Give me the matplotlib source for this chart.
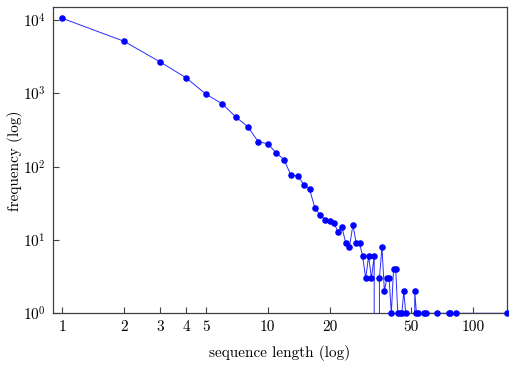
import numpy as np
import matplotlib
matplotlib.use("Agg")
import matplotlib.pyplot as plt
from matplotlib.ticker import FixedLocator, NullLocator

plt.rcParams['font.family'] = ['cmr10', 'DejaVu Serif']
plt.rcParams['mathtext.fontset'] = 'cm'
plt.rcParams['axes.unicode_minus'] = False

lengths = [1, 2, 3, 4, 5, 6, 7, 8, 9, 10, 11, 12, 13, 14, 15, 16, 17, 18, 19, 20,
           21, 22, 23, 24, 25, 26, 27, 28, 29, 30, 31, 32, 33, 34, 35, 36, 37, 38,
           39, 40, 41, 42, 43, 44, 45, 46, 47, 48, 49, 50, 51, 52, 53, 54, 58, 59,
           67, 76, 77, 83, 147]
counts = [10600, 5140, 2680, 1640, 980, 724, 476, 352, 219, 206, 155, 125, 76, 75,
          57, 49, 27, 22, 19, 18, 17, 13, 15, 9, 8, 16, 9, 9, 6, 3, 6, 3, 6, 0, 3,
          8, 2, 3, 3, 1, 4, 4, 1, 1, 1, 2, 1, 0, 0, 0, 0, 2, 1, 1, 1, 1, 1, 1, 1,
          1, 1]

x_ticks = [1, 2, 3, 4, 5, 10, 20, 50, 100]
x_tick_labels = ['1', '2', '3', '4', '5', '10', '20', '50', '100']
y_ticks = [1, 10, 100, 1000, 10000]
y_tick_labels = [r'$10^{0}$', r'$10^{1}$', r'$10^{2}$', r'$10^{3}$', r'$10^{4}$']

x = np.array(lengths, dtype=float)
y = np.array(counts, dtype=float)

fig = plt.figure(figsize=(5.10, 3.77), dpi=100)
ax = fig.add_axes([0.1033, 0.169, 0.8917, 0.8116])
ax.set_xscale('log')
ax.set_yscale('log', nonpositive='clip')

ax.plot(x, y, color='#2a2aff', lw=0.7, zorder=2)
ypos = np.where(y > 0, y, np.nan)
ax.plot(x, ypos, linestyle='none', marker='o', markersize=3.7,
        color='blue', clip_on=False, zorder=3)

ax.set_xlim(0.898, 147)
ax.set_ylim(1, 14960)

ax.xaxis.set_major_locator(FixedLocator(x_ticks))
ax.set_xticklabels(x_tick_labels)
ax.xaxis.set_minor_locator(NullLocator())
ax.yaxis.set_major_locator(FixedLocator(y_ticks))
ax.set_yticklabels(y_tick_labels)
ax.yaxis.set_minor_locator(NullLocator())

ax.tick_params(direction='in', length=4.5, width=0.8, color='#404040',
               labelsize=11, top=False, right=False, pad=5)
for s in ax.spines.values():
    s.set_color('#404040')
    s.set_linewidth(0.9)

ax.set_xlabel('sequence length (log)', fontsize=11)
ax.set_ylabel('frequency (log)', fontsize=11)
ax.xaxis.set_label_coords(0.5, -0.103)
ax.yaxis.set_label_coords(-0.066, 0.5)

fig.savefig('out.png', dpi=100)
